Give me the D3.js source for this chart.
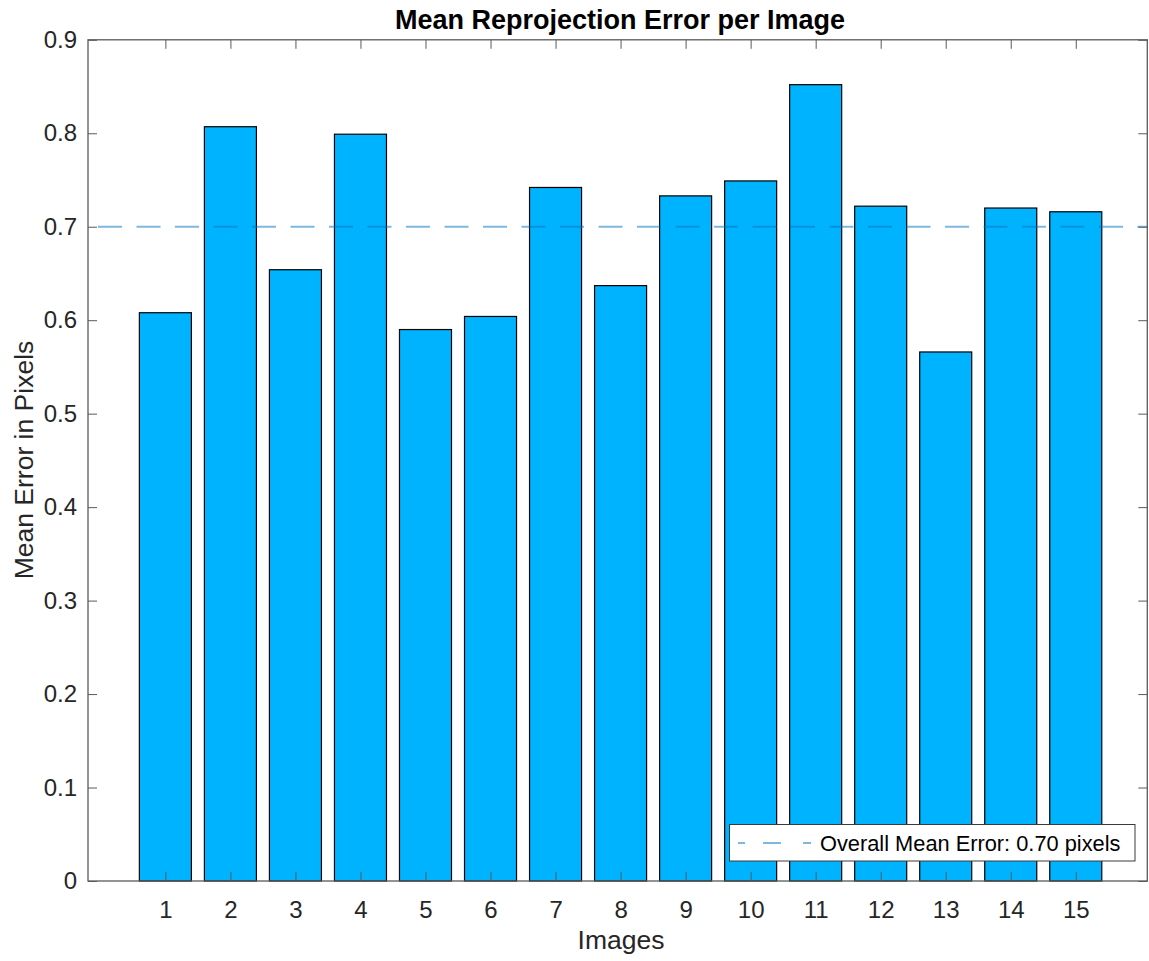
<!DOCTYPE html>
<html><head><meta charset="utf-8">
<script src="https://cdn.jsdelivr.net/npm/d3@7"></script>
<style>body{margin:0;background:#fff}svg{display:block}text{font-family:"Liberation Sans",Arial,Helvetica,sans-serif}</style>
</head><body><svg id="c" width="1149" height="961"></svg>
<script>
const categories = [1,2,3,4,5,6,7,8,9,10,11,12,13,14,15];
const errors = [0.608,0.807,0.654,0.799,0.590,0.604,0.742,0.637,0.733,0.749,0.852,0.722,0.566,0.720,0.716];
const overallMean = 0.70;
const yTicks = [0,0.1,0.2,0.3,0.4,0.5,0.6,0.7,0.8,0.9];
const title = "Mean Reprojection Error per Image";
const xLabel = "Images";
const yLabel = "Mean Error in Pixels";
const legendLabel = "Overall Mean Error: 0.70 pixels";

const svg = d3.select("#c");
const L = 88, R = 1147.3, T = 39.8, B = 881;
const x = d3.scaleLinear().domain([-0.19, 16.1]).range([L, R]);
const y = d3.scaleLinear().domain([0, 0.9]).range([B, T]);
const axisColor = "#5a5a5a", textColor = "#262626";
const barW = 0.8;

// bars
svg.append("g").selectAll("rect").data(categories).join("rect")
  .attr("x", (d,i) => x(d - barW/2))
  .attr("width", x(barW) - x(0))
  .attr("y", (d,i) => y(errors[i]))
  .attr("height", (d,i) => y(0) - y(errors[i]))
  .attr("fill", "#00b3ff").attr("stroke", "#000").attr("stroke-width", 1.2);

// mean line
svg.append("line")
  .attr("x1", L).attr("x2", R).attr("y1", y(overallMean)).attr("y2", y(overallMean))
  .attr("stroke", "#0072BD").attr("stroke-opacity", 0.5).attr("stroke-width", 2)
  .attr("stroke-dasharray", "24,14.5").attr("stroke-dashoffset", -10);

// axes
function styleAxis(g){
  g.select(".domain").remove();
  g.selectAll(".tick line").attr("stroke", axisColor).attr("stroke-width", 1);
  g.selectAll(".tick text").attr("fill", textColor).style("font-size", "24px");
}
svg.append("g").attr("transform", `translate(0,${B})`)
  .call(d3.axisBottom(x).tickValues(categories).tickFormat(d3.format("d")).tickSizeInner(-9).tickSizeOuter(0).tickPadding(20))
  .call(styleAxis);
svg.append("g").attr("transform", `translate(0,${T})`)
  .call(d3.axisTop(x).tickValues(categories).tickFormat("").tickSizeInner(-9).tickSizeOuter(0))
  .call(styleAxis);
svg.append("g").attr("transform", `translate(${L},0)`)
  .call(d3.axisLeft(y).tickValues(yTicks).tickFormat(d => d === 0 ? "0" : d3.format(".1f")(d)).tickSizeInner(-9).tickSizeOuter(0).tickPadding(11))
  .call(styleAxis);
svg.append("g").attr("transform", `translate(${R},0)`)
  .call(d3.axisRight(y).tickValues(yTicks).tickFormat("").tickSizeInner(-9).tickSizeOuter(0))
  .call(styleAxis);
svg.append("rect").attr("x", L).attr("y", T).attr("width", R - L).attr("height", B - T)
  .attr("fill", "none").attr("stroke", axisColor).attr("stroke-width", 1.3);

// labels
svg.append("text").attr("x", 620).attr("y", 29).attr("text-anchor", "middle")
  .style("font-size", "27px").style("font-weight", "bold").attr("fill", "#000").text(title);
svg.append("text").attr("x", 621).attr("y", 949).attr("text-anchor", "middle")
  .style("font-size", "26.5px").attr("fill", textColor).text(xLabel);
svg.append("text").attr("transform", "translate(33,460) rotate(-90)").attr("text-anchor", "middle")
  .style("font-size", "26.5px").attr("fill", textColor).text(yLabel);

// legend
const lg = svg.append("g");
lg.append("rect").attr("x", 729.5).attr("y", 824.5).attr("width", 405.5).attr("height", 36.5)
  .attr("fill", "#fff").attr("stroke", "#3a3a3a").attr("stroke-width", 1);
lg.append("line").attr("x1", 738).attr("x2", 812).attr("y1", 843).attr("y2", 843)
  .attr("stroke", "#0072BD").attr("stroke-opacity", 0.5).attr("stroke-width", 2)
  .attr("stroke-dasharray", "7,18,18,22,8");
lg.append("text").attr("x", 820).attr("y", 850.5).style("font-size", "21.8px").attr("fill", "#000").text(legendLabel);
</script></body></html>
